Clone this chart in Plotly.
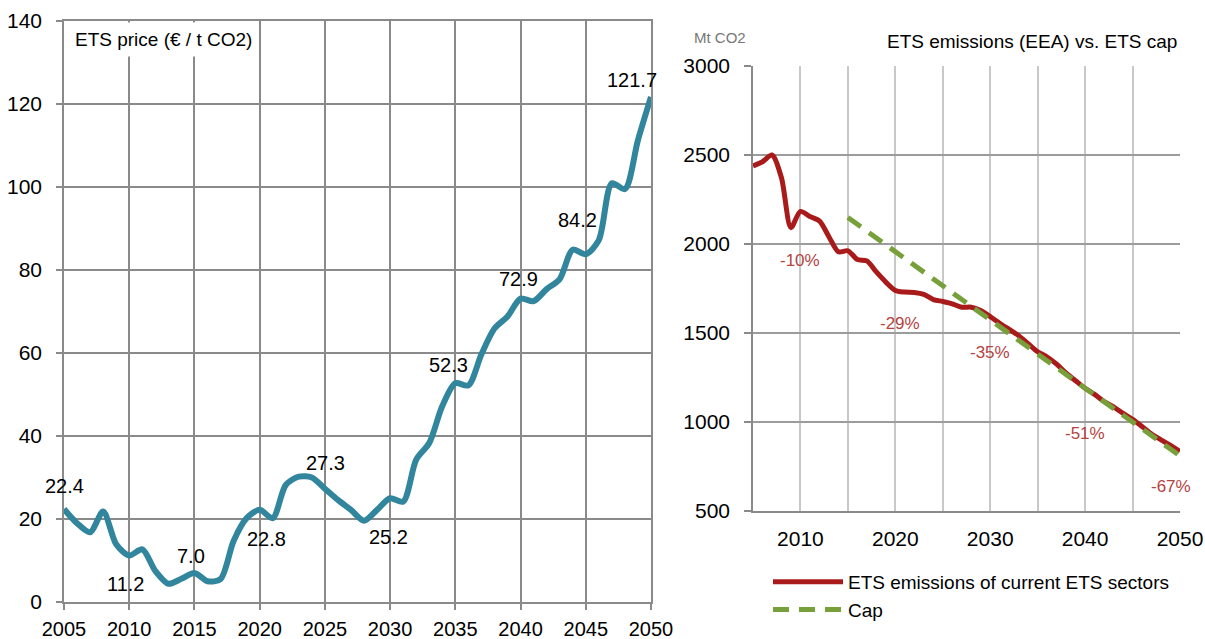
import plotly.graph_objects as go

FONT = "Liberation Sans, Arial, sans-serif"

# ---------------- data: ETS price ----------------
price_years = list(range(2005, 2051))
price_values = [22.4, 19.0, 16.8, 21.8, 13.9, 11.2, 12.7, 7.5, 4.4, 5.6,
                7.0, 5.0, 5.5, 14.7, 20.2, 22.2, 20.2, 28.2, 30.2, 30.0,
                27.3, 24.6, 22.2, 19.6, 22.2, 25.0, 24.2, 34.3, 38.3, 47.2,
                52.7, 52.2, 59.7, 65.9, 68.8, 73.1, 72.5, 75.4, 77.8, 84.9,
                83.8, 87.2, 100.9, 99.5, 111.3, 121.7]

price_label_years = [2005, 2010, 2015, 2020, 2025, 2030, 2035, 2040, 2045, 2050]
price_label_values = [22.4, 11.2, 7.0, 22.8, 27.3, 25.2, 52.3, 72.9, 84.2, 121.7]
price_label_texts = ["22.4", "11.2", "7.0", "22.8", "27.3", "25.2", "52.3", "72.9", "84.2", "121.7"]

price_xticks = [2005, 2010, 2015, 2020, 2025, 2030, 2035, 2040, 2045, 2050]
price_yticks = [0, 20, 40, 60, 80, 100, 120, 140]

# ---------------- data: ETS emissions vs cap ----------------
em_years = list(range(2005, 2051))
em_values = [2438, 2462, 2500, 2372, 2092, 2183, 2154, 2130, 2041, 1956,
             1962, 1913, 1905, 1843, 1786, 1739, 1730, 1728, 1717, 1688,
             1677, 1664, 1645, 1645, 1626, 1592, 1555, 1520, 1485, 1440,
             1395, 1365, 1325, 1275, 1232, 1190, 1155, 1115, 1085, 1048,
             1015, 975, 932, 900, 868, 835]

cap_years = [2015, 2020, 2025, 2030, 2035, 2040, 2045, 2050]
cap_values = [2149, 1956, 1762, 1569, 1380, 1190, 1000, 810]

pct_years = [2010, 2020.5, 2030, 2040, 2049]
pct_values = [1910, 1555, 1393, 938, 640]
pct_texts = ["-10%", "-29%", "-35%", "-51%", "-67%"]

em_xticks = [2005, 2010, 2015, 2020, 2025, 2030, 2035, 2040, 2045, 2050]
em_xticklabels = ["", "2010", "", "2020", "", "2030", "", "2040", "", "2050"]
em_yticks = [500, 1000, 1500, 2000, 2500, 3000]

# ---------------- styling ----------------
W, H = 1205, 639
TEAL = "#31859c"
RED = "#a91b1b"
GREEN = "#77a03b"
PCT_RED = "#b5433f"

fig = go.Figure()

fig.add_trace(go.Scatter(
    x=price_years, y=price_values, mode="lines",
    line=dict(color=TEAL, width=6, shape="spline", smoothing=0.8),
    xaxis="x", yaxis="y", showlegend=False, hoverinfo="x+y"))

fig.add_trace(go.Scatter(
    x=em_years, y=em_values, mode="lines",
    name="ETS emissions of current ETS sectors",
    line=dict(color=RED, width=5, shape="spline", smoothing=0.8),
    xaxis="x2", yaxis="y2"))

fig.add_trace(go.Scatter(
    x=cap_years, y=cap_values, mode="lines", name="Cap",
    line=dict(color=GREEN, width=5, dash="16px,10px"),
    xaxis="x2", yaxis="y2"))

# price data labels (pixel offsets from the data point)
label_shifts = [(0, 23), (-4, -28), (-3, 17), (7, -32), (1, 26),
                (-2, -40), (-7, 20), (-2, 20), (-8, 33), (-19, 17)]
annotations = []
for yr, v, t, (dx, dy) in zip(price_label_years, price_label_values, price_label_texts, label_shifts):
    annotations.append(dict(x=yr, y=v, xref="x", yref="y", text=t, showarrow=False,
                            xshift=dx, yshift=dy, font=dict(family=FONT, size=20, color="#000"),
                            xanchor="center", yanchor="middle"))

for yr, v, t in zip(pct_years, pct_values, pct_texts):
    annotations.append(dict(x=yr, y=v, xref="x2", yref="y2", text=t, showarrow=False,
                            font=dict(family=FONT, size=17, color=PCT_RED),
                            xanchor="center", yanchor="middle"))

# titles
annotations.append(dict(x=68 / W, y=1 - 22 / H, xref="paper", yref="paper",
                        text="ETS price (€ / t CO2)", showarrow=False,
                        xanchor="left", yanchor="top", bgcolor="white",
                        borderpad=6, font=dict(family=FONT, size=19, color="#000")))
annotations.append(dict(x=720 / W, y=1 - 38 / H, xref="paper", yref="paper",
                        text="Mt CO2", showarrow=False, xanchor="center", yanchor="middle",
                        font=dict(family=FONT, size=15, color="#777")))
annotations.append(dict(x=1179 / W, y=1 - 41 / H, xref="paper", yref="paper",
                        text="ETS emissions (EEA) vs. ETS cap", showarrow=False,
                        xanchor="right", yanchor="middle",
                        font=dict(family=FONT, size=19, color="#000")))

GRID_L = "#8a8a8a"
fig.update_layout(
    width=W, height=H,
    margin=dict(l=0, r=0, t=0, b=0, autoexpand=False),
    paper_bgcolor="white", plot_bgcolor="white",
    font=dict(family=FONT, size=21, color="#000"),
    annotations=annotations,
    xaxis=dict(domain=[64 / W, 651 / W], range=[2005, 2050], automargin=False,
               tickmode="array", tickvals=price_xticks, ticktext=[str(v) for v in price_xticks],
               showgrid=True, gridcolor=GRID_L, gridwidth=1.5,
               showline=True, linecolor=GRID_L, linewidth=1.5, mirror=True,
               ticks="outside", ticklen=6, tickcolor=GRID_L, tickwidth=1.5,
               zeroline=False, tickfont=dict(size=20), ticklabelstandoff=2),
    yaxis=dict(domain=[(H - 602) / H, (H - 21) / H], range=[0, 140], automargin=False,
               tickmode="array", tickvals=price_yticks,
               showgrid=True, gridcolor=GRID_L, gridwidth=1.5,
               showline=True, linecolor=GRID_L, linewidth=1.5, mirror=True,
               ticks="outside", ticklen=6, tickcolor=GRID_L, tickwidth=1.5,
               zeroline=False, tickfont=dict(size=21), ticklabelstandoff=10),
    xaxis2=dict(domain=[753 / W, 1180 / W], range=[2005, 2050], anchor="y2", automargin=False,
                tickmode="array", tickvals=em_xticks, ticktext=em_xticklabels,
                showgrid=True, gridcolor="#c8c8c8", gridwidth=1.5,
                showline=True, linecolor="#8a8a8a", linewidth=1.5,
                ticks="", zeroline=False, tickfont=dict(size=21), ticklabelstandoff=8),
    yaxis2=dict(domain=[(H - 511) / H, (H - 66) / H], range=[500, 3000], anchor="x2",
                automargin=False, tickmode="array", tickvals=em_yticks,
                showgrid=True, gridcolor="#9c9c9c", gridwidth=1.5,
                showline=True, linecolor="#8a8a8a", linewidth=1.5,
                ticks="outside", ticklen=7, tickcolor="#8a8a8a", tickwidth=1.5,
                zeroline=False, tickfont=dict(size=21), ticklabelstandoff=10),
    legend=dict(x=768 / W, y=1 - 563 / H, xanchor="left", yanchor="top",
                font=dict(family=FONT, size=19, color="#000"),
                bgcolor="rgba(0,0,0,0)", tracegroupgap=0, itemwidth=70,
                orientation="v"),
    showlegend=True,
)

fig.write_html("out.html", config={"displayModeBar": False},
               post_script="document.body.style.margin='0';document.body.style.overflow='hidden';")
